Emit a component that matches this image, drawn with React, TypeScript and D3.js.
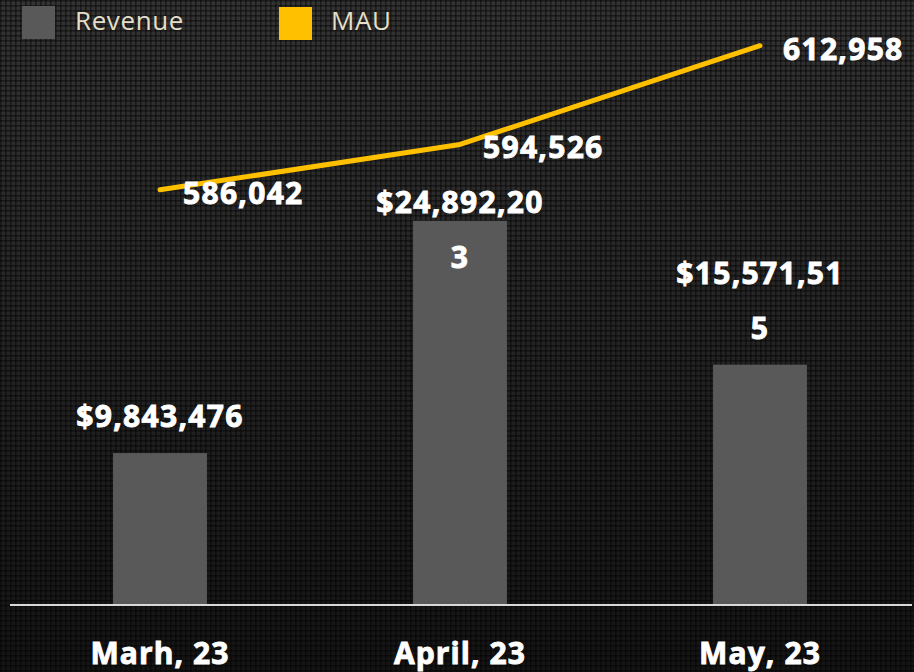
import React from "react";
import * as d3 from "d3";

const categories = ["Marh, 23", "April, 23", "May, 23"];
const revenue = [9843476, 24892203, 15571515];
const mau = [586042, 594526, 612958];
const seriesNames = ["Revenue", "MAU"];
const revenueLabelInside = [false, true, false];

const W = 914;
const H = 672;
const BASE = 605;
const BAR_COLOR = "#595959";
const LINE_COLOR = "#FFC000";
const FONT = "'Open Sans', 'Noto Sans', sans-serif";

function wrap(s: string, n: number): string[] {
  const out: string[] = [];
  for (let i = 0; i < s.length; i += n) out.push(s.slice(i, i + n));
  return out;
}

export default function App() {
  const x = d3
    .scaleBand<string>()
    .domain(categories)
    .range([10, 910])
    .paddingInner(0.687)
    .paddingOuter(0.3435);
  const yRev = d3.scaleLinear().domain([0, 39200000]).range([BASE, 0]);
  const yMau = d3.scaleLinear().domain([508500, 621500]).range([BASE, 0]);
  const cx = (c: string) => (x(c) as number) + x.bandwidth() / 2;
  const fmt = d3.format(",");
  const line = d3
    .line<number>()
    .x((_, i) => cx(categories[i]))
    .y((d) => yMau(d));

  const boldText = { fontFamily: FONT, fontWeight: 700, fontSize: 30, fill: "#FFFFFF", stroke: "#FFFFFF", strokeWidth: 0.9 };

  return (
    <svg width={W} height={H} style={{ position: "absolute", left: 0, top: 0, display: "block" }}>
      <defs>
        <linearGradient id="bg" x1="0" y1="0" x2="0" y2="1">
          <stop offset="0" stopColor="#333333" />
          <stop offset="0.5" stopColor="#242424" />
          <stop offset="1" stopColor="#141414" />
        </linearGradient>
        <pattern id="grid" width="5" height="5" patternUnits="userSpaceOnUse">
          <rect x="0" y="0" width="5" height="1.6" fill="#000" opacity="0.45" />
          <rect x="0" y="0" width="1.6" height="5" fill="#000" opacity="0.45" />
        </pattern>
      </defs>
      <rect width={W} height={H} fill="url(#bg)" />
      <rect width={W} height={H} fill="url(#grid)" />

      {/* legend */}
      <g fontFamily={FONT} fontSize={26} fill="#E3DFC9" letterSpacing={0.6}>
        <rect x={22} y={6} width={33} height={33} fill={BAR_COLOR} />
        <text x={75} y={30}>{seriesNames[0]}</text>
        <rect x={279} y={7} width={33} height={33} fill={LINE_COLOR} />
        <text x={331} y={30}>{seriesNames[1]}</text>
      </g>

      {/* bars */}
      {categories.map((c, i) => (
        <rect
          key={c}
          x={x(c)}
          y={yRev(revenue[i])}
          width={x.bandwidth()}
          height={BASE - yRev(revenue[i])}
          fill={BAR_COLOR}
        />
      ))}

      {/* baseline */}
      <line x1={10} x2={912} y1={BASE} y2={BASE} stroke="#D9D9D9" strokeWidth={2} />

      {/* revenue labels */}
      <g {...boldText} textAnchor="middle" letterSpacing={1.3}>
        {categories.map((c, i) => {
          const lines = wrap("$" + fmt(revenue[i]), 10);
          const top = yRev(revenue[i]);
          const lastBase = revenueLabelInside[i] ? top + 47 : top - 26;
          return lines.map((t, j) => (
            <text key={c + j} x={cx(c)} y={lastBase - (lines.length - 1 - j) * 55}>
              {t}
            </text>
          ));
        })}
      </g>

      {/* MAU line */}
      <path d={line(mau) || ""} fill="none" stroke={LINE_COLOR} strokeWidth={5} strokeLinecap="round" strokeLinejoin="round" />

      {/* MAU labels */}
      <g {...boldText} letterSpacing={1.3}>
        {categories.map((c, i) => (
          <text key={c} x={cx(c) + 23} y={yMau(mau[i]) + 14}>
            {fmt(mau[i])}
          </text>
        ))}
      </g>

      {/* x axis labels */}
      <g {...boldText} textAnchor="middle" letterSpacing={1.1}>
        {categories.map((c) => (
          <text key={c} x={cx(c)} y={664}>
            {c}
          </text>
        ))}
      </g>
    </svg>
  );
}
